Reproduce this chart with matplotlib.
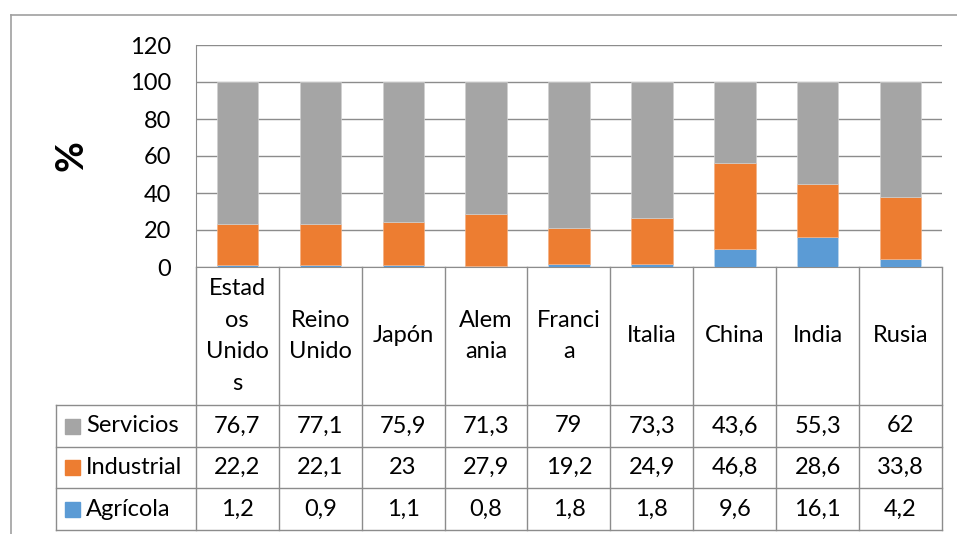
import numpy as np
import matplotlib.pyplot as plt
from matplotlib.lines import Line2D
from matplotlib.patches import Rectangle

plt.rcParams['font.family'] = ['Lato', 'DejaVu Sans']

paises = ['Estad\nos\nUnido\ns', 'Reino\nUnido', 'Japón', 'Alem\nania', 'Franci\na',
          'Italia', 'China', 'India', 'Rusia']
series = ['Servicios', 'Industrial', 'Agrícola']
servicios = [76.7, 77.1, 75.9, 71.3, 79, 73.3, 43.6, 55.3, 62]
industrial = [22.2, 22.1, 23, 27.9, 19.2, 24.9, 46.8, 28.6, 33.8]
agricola = [1.2, 0.9, 1.1, 0.8, 1.8, 1.8, 9.6, 16.1, 4.2]
colores = ['#A5A5A5', '#ED7D31', '#5B9BD5']
yticks = [0, 20, 40, 60, 80, 100, 120]

W, H = 957, 534
fig = plt.figure(figsize=(W / 100, H / 100), dpi=100)

def rect(l, t, r, b):
    return [l / W, 1 - b / H, (r - l) / W, (b - t) / H]

grid_c = '#8C8C8C'
fs = 17

# chart
ax = fig.add_axes(rect(196, 45, 942, 267))
x = np.arange(len(paises))
ax.set_xlim(-0.5, len(paises) - 0.5)
ax.set_ylim(0, 120)
ax.set_yticks(yticks)
ax.set_yticklabels([str(v) for v in yticks], fontsize=fs)
ax.tick_params(axis='y', length=0, pad=18)
ax.set_xticks([])
ax.grid(axis='y', color=grid_c, lw=1.0)
ax.set_axisbelow(True)
for s in ['top', 'right']:
    ax.spines[s].set_visible(False)
ax.spines['left'].set_color(grid_c)
ax.spines['bottom'].set_color(grid_c)

agr = np.array(agricola)
ind = np.array(industrial)
ser = np.array(servicios)
ax.bar(x, agr, 0.5, color=colores[2], edgecolor='#BDD7EE', lw=0.5, zorder=3)
ax.bar(x, ind, 0.5, bottom=agr, color=colores[1], edgecolor='#F4B183', lw=0.5, zorder=3)
ax.bar(x, ser, 0.5, bottom=agr + ind, color=colores[0], edgecolor='#D0D0D0', lw=0.5, zorder=3)

fig.text(71 / W, 1 - 156 / H, '%', rotation=90, fontsize=27, fontweight='bold',
         ha='center', va='center')

# data table
tax = fig.add_axes(rect(56, 267, 942, 530))
leg_w = 140 / 83.0
tax.set_xlim(-0.5 - leg_w, len(paises) - 0.5)
tax.set_ylim(263, 0)
tax.axis('off')
row_y = [0, 138, 180, 221, 263]
for i in range(len(paises) + 1):
    tax.add_line(Line2D([i - 0.5, i - 0.5], [0, 263], color=grid_c, lw=1.0, clip_on=False))
tax.add_line(Line2D([-0.5 - leg_w] * 2, [138, 263], color=grid_c, lw=1.0, clip_on=False))
for yy in row_y[1:]:
    tax.add_line(Line2D([-0.5 - leg_w, len(paises) - 0.5], [yy, yy], color=grid_c, lw=1.0,
                        clip_on=False))

for i, p in enumerate(paises):
    tax.text(i, 69, p, ha='center', va='center', fontsize=fs, linespacing=1.62)

valores = [servicios, industrial, agricola]
for r, (nom, vals, col) in enumerate(zip(series, valores, colores)):
    yc = (row_y[r + 1] + row_y[r + 2]) / 2
    tax.add_patch(Rectangle((-0.5 - leg_w + 9 / 83, yc - 7.5), 15 / 83, 15, color=col,
                            clip_on=False))
    tax.text(-0.5 - leg_w + 30 / 83, yc, nom, ha='left', va='center', fontsize=fs)
    for i, v in enumerate(vals):
        tax.text(i, yc, ('%g' % v).replace('.', ','), ha='center', va='center', fontsize=fs)

# outer frame
fig.add_artist(Line2D([11 / W, 11 / W], [0, 1 - 15 / H], color='#A0A0A0', lw=1.2))
fig.add_artist(Line2D([11 / W, 1], [1 - 15 / H, 1 - 15 / H], color='#A0A0A0', lw=1.2))

fig.savefig('out.png', dpi=100)
